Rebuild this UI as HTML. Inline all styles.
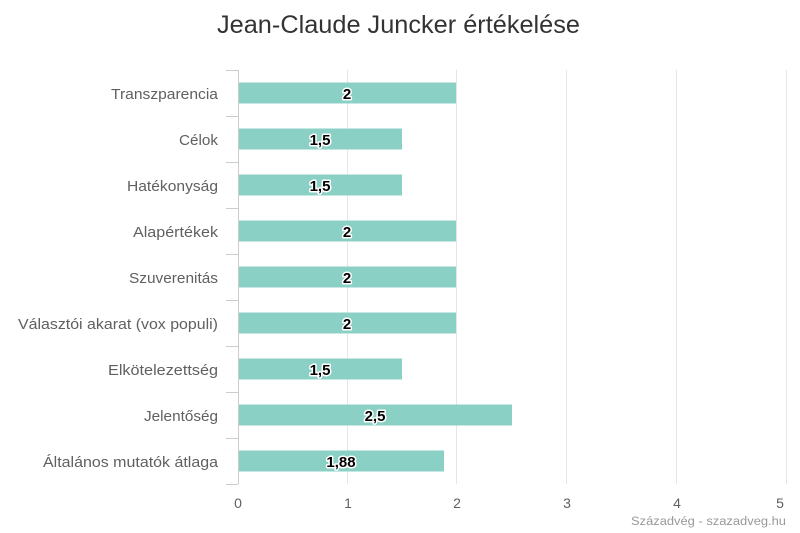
<!DOCTYPE html>
<html>
<head>
<meta charset="utf-8">
<style>
html,body{margin:0;padding:0;background:#fff;}
svg{display:block;}
text{font-family:"Liberation Sans","DejaVu Sans",sans-serif;}
.cat{font-size:14.5px;fill:#606060;text-anchor:end;}
.dl{font-size:15px;font-weight:bold;fill:#000;text-anchor:middle;stroke:#fff;stroke-width:3px;paint-order:stroke;stroke-linejoin:round;}
.xl{font-size:14px;fill:#606060;text-anchor:middle;}
</style>
</head>
<body>
<svg width="800" height="533" viewBox="0 0 800 533" xmlns="http://www.w3.org/2000/svg">
<rect width="800" height="533" fill="#fff"/>
<text x="398.5" y="33" font-size="25" fill="#333" text-anchor="middle" textLength="363" lengthAdjust="spacingAndGlyphs">Jean-Claude Juncker értékelése</text>

<!-- grid -->
<g stroke="#e6e6e6" stroke-width="1">
<line x1="347.5" y1="70" x2="347.5" y2="484"/>
<line x1="456.5" y1="70" x2="456.5" y2="484"/>
<line x1="566.5" y1="70" x2="566.5" y2="484"/>
<line x1="676.5" y1="70" x2="676.5" y2="484"/>
<line x1="786.5" y1="70" x2="786.5" y2="484"/>
</g>

<!-- bars -->
<g fill="#8bd0c5">
<rect x="238" y="82.5" width="218" height="21"/>
<rect x="238" y="128.5" width="164" height="21"/>
<rect x="238" y="174.5" width="164" height="21"/>
<rect x="238" y="220.5" width="218" height="21"/>
<rect x="238" y="266.5" width="218" height="21"/>
<rect x="238" y="312.5" width="218" height="21"/>
<rect x="238" y="358.5" width="164" height="21"/>
<rect x="238" y="404.5" width="274" height="21"/>
<rect x="238" y="450.5" width="206" height="21"/>
</g>

<!-- y axis -->
<g stroke="#cccccc" stroke-width="1" fill="none">
<line x1="238.5" y1="70" x2="238.5" y2="484"/>
<line x1="226" y1="70.5" x2="238" y2="70.5"/>
<line x1="226" y1="116.5" x2="238" y2="116.5"/>
<line x1="226" y1="162.5" x2="238" y2="162.5"/>
<line x1="226" y1="208.5" x2="238" y2="208.5"/>
<line x1="226" y1="254.5" x2="238" y2="254.5"/>
<line x1="226" y1="300.5" x2="238" y2="300.5"/>
<line x1="226" y1="346.5" x2="238" y2="346.5"/>
<line x1="226" y1="392.5" x2="238" y2="392.5"/>
<line x1="226" y1="438.5" x2="238" y2="438.5"/>
<line x1="226" y1="484.5" x2="238" y2="484.5"/>
</g>

<!-- category labels -->
<text class="cat" x="218" y="99" textLength="107" lengthAdjust="spacingAndGlyphs">Transzparencia</text>
<text class="cat" x="218" y="145" textLength="39" lengthAdjust="spacingAndGlyphs">Célok</text>
<text class="cat" x="218" y="191" textLength="91" lengthAdjust="spacingAndGlyphs">Hatékonyság</text>
<text class="cat" x="218" y="237" textLength="85" lengthAdjust="spacingAndGlyphs">Alapértékek</text>
<text class="cat" x="218" y="283" textLength="89" lengthAdjust="spacingAndGlyphs">Szuverenitás</text>
<text class="cat" x="218" y="329" textLength="200" lengthAdjust="spacingAndGlyphs">Választói akarat (vox populi)</text>
<text class="cat" x="218" y="375" textLength="110" lengthAdjust="spacingAndGlyphs">Elkötelezettség</text>
<text class="cat" x="218" y="421" textLength="74" lengthAdjust="spacingAndGlyphs">Jelentőség</text>
<text class="cat" x="218" y="467" textLength="175" lengthAdjust="spacingAndGlyphs">Általános mutatók átlaga</text>

<!-- data labels -->
<text class="dl" x="347" y="99">2</text>
<text class="dl" x="320" y="145">1,5</text>
<text class="dl" x="320" y="191">1,5</text>
<text class="dl" x="347" y="237">2</text>
<text class="dl" x="347" y="283">2</text>
<text class="dl" x="347" y="329">2</text>
<text class="dl" x="320" y="375">1,5</text>
<text class="dl" x="375" y="421">2,5</text>
<text class="dl" x="341" y="467">1,88</text>

<!-- x axis labels -->
<text class="xl" x="238" y="508">0</text>
<text class="xl" x="348" y="508">1</text>
<text class="xl" x="457" y="508">2</text>
<text class="xl" x="567" y="508">3</text>
<text class="xl" x="677" y="508">4</text>
<text class="xl" x="780" y="508">5</text>

<text x="786" y="525" font-size="11.5" fill="#999" text-anchor="end" textLength="155" lengthAdjust="spacingAndGlyphs">Századvég - szazadveg.hu</text>
</svg>
</body>
</html>
